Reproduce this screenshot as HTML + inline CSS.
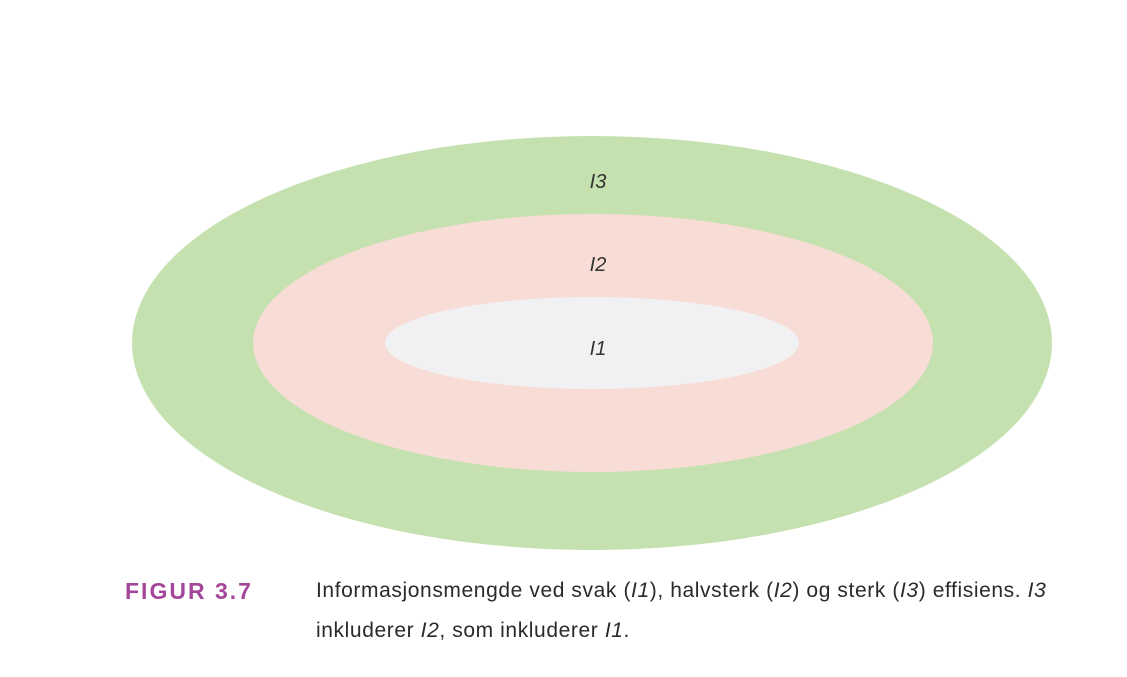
<!DOCTYPE html>
<html><head><meta charset="utf-8"><style>
html,body{margin:0;padding:0;background:#fff;width:1127px;height:677px;overflow:hidden;font-family:"Liberation Sans",sans-serif}
svg{position:absolute;left:0;top:0}
.cap{position:absolute;font-size:21px;color:#2a2a2a;line-height:40px;letter-spacing:0.6px;white-space:nowrap}
</style></head><body>
<svg width="1127" height="677">
<ellipse cx="592" cy="343" rx="460" ry="207" fill="#c5e1b0"/>
<ellipse cx="593" cy="343" rx="340" ry="129" fill="#f8dcd6"/>
<ellipse cx="592" cy="343" rx="207" ry="46" fill="#f1f1f3"/>
<text x="598" y="188" font-size="20" font-style="italic" text-anchor="middle" fill="#333" font-family="Liberation Sans">I3</text>
<text x="598" y="271" font-size="20" font-style="italic" text-anchor="middle" fill="#333" font-family="Liberation Sans">I2</text>
<text x="598" y="355" font-size="20" font-style="italic" text-anchor="middle" fill="#333" font-family="Liberation Sans">I1</text>
</svg>
<div class="cap" style="left:125px;top:571px;color:#a4479a;font-weight:bold;font-size:23px;letter-spacing:2px">FIGUR 3.7</div>
<div class="cap" style="left:316px;top:571px">Informasjonsmengde ved svak (<i>I1</i>), halvsterk (<i>I2</i>) og sterk (<i>I3</i>) effisiens. <i>I3</i><br>inkluderer <i>I2</i>, som inkluderer <i>I1</i>.</div>
</body></html>
